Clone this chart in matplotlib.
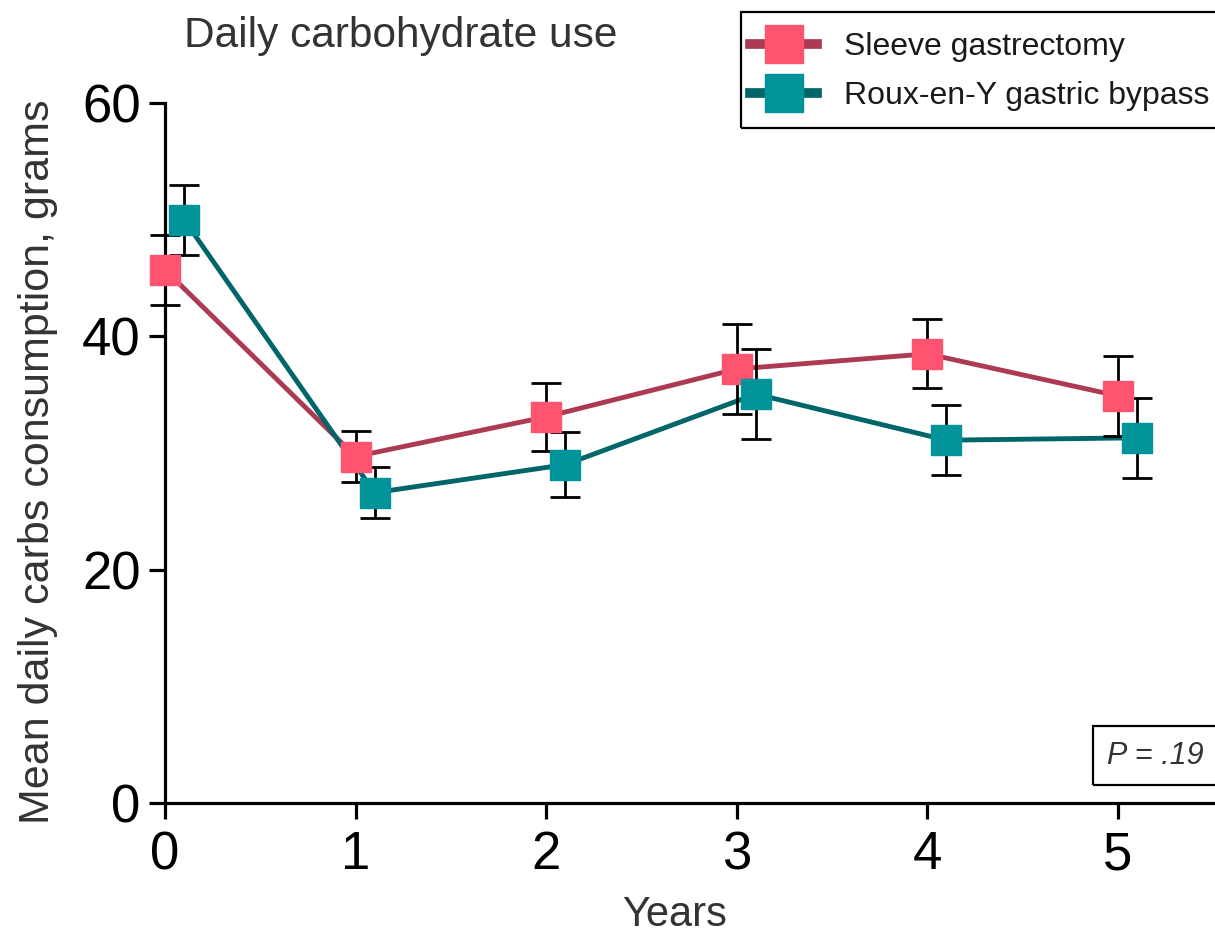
import matplotlib
matplotlib.use("Agg")
import matplotlib.pyplot as plt
from matplotlib.lines import Line2D
from matplotlib.patches import Rectangle

plt.rcParams["font.family"] = ["Liberation Sans", "DejaVu Sans"]

years = [0, 1, 2, 3, 4, 5]
offset = 0.1  # bypass points are nudged right, as in the original

sleeve_mean = [45.7, 29.7, 33.1, 37.2, 38.5, 34.9]
sleeve_err = [3.0, 2.2, 2.9, 3.85, 2.95, 3.45]

bypass_mean = [50.0, 26.6, 29.0, 35.05, 31.1, 31.3]
bypass_err = [3.0, 2.2, 2.8, 3.85, 3.0, 3.4]

labels = ["Sleeve gastrectomy", "Roux-en-Y gastric bypass"]
y_ticks = [0, 20, 40, 60]

SLEEVE_FILL = "#ff5470"
SLEEVE_LINE = "#ab3a52"
BYPASS_FILL = "#00939a"
BYPASS_LINE = "#00666a"

W, H = 1215, 941
fig = plt.figure(figsize=(W / 100, H / 100), dpi=100)
ax = fig.add_axes([165 / W, 138 / H, 1050 / W, 700 / H])

series = [
    (years, sleeve_mean, sleeve_err, SLEEVE_FILL, SLEEVE_LINE),
    ([x + offset for x in years], bypass_mean, bypass_err, BYPASS_FILL, BYPASS_LINE),
]

# lines first, then error bars, markers on top
for xs, m, e, fill, line in series:
    ax.plot(xs, m, color=line, lw=3.5, zorder=2, clip_on=False)
for xs, m, e, fill, line in series:
    ax.errorbar(xs, m, yerr=e, fmt="none", ecolor="black", elinewidth=2.0,
                capsize=10.5, capthick=2.0, zorder=3, clip_on=False)
for xs, m, e, fill, line in series:
    ax.plot(xs, m, ls="none", marker="s", ms=21, mfc=fill, mec=fill,
            zorder=4, clip_on=False)

ax.set_xlim(0, 5.51)
ax.set_ylim(0, 60)
ax.set_xticks(years)
ax.set_yticks(y_ticks)
ax.spines["top"].set_visible(False)
ax.spines["right"].set_visible(False)
for s in ("left", "bottom"):
    ax.spines[s].set_linewidth(2.3)
ax.tick_params(axis="both", which="major", width=2.3, length=11.5,
               labelsize=38, colors="black")
ax.tick_params(axis="y", pad=6)
ax.tick_params(axis="x", pad=8)

ax.set_xlabel("Years", fontsize=30, color="#333333")
ax.xaxis.set_label_coords(0.485, -0.131)
ax.set_ylabel("Mean daily carbs consumption, grams", fontsize=31, color="#333333")
ax.yaxis.set_label_coords(-0.102, 0.487)

fig.text(401 / W, 1 - 47 / H, "Daily carbohydrate use", ha="center",
         va="baseline", fontsize=30.5, color="#333333")

# legend: frame drawn separately so it can run past the right edge like the original
handles = [
    Line2D([0], [0], color=SLEEVE_LINE, lw=7, marker="s", ms=28,
           mfc=SLEEVE_FILL, mec=SLEEVE_FILL),
    Line2D([0], [0], color=BYPASS_LINE, lw=7, marker="s", ms=28,
           mfc=BYPASS_FILL, mec=BYPASS_FILL),
]
leg = fig.legend(handles, labels, loc="upper left",
                 bbox_to_anchor=(750 / W, 1 - 32 / H),
                 bbox_transform=fig.transFigure, borderaxespad=0,
                 fontsize=23, handlelength=2.1, handletextpad=0.85,
                 borderpad=0, labelspacing=0.6, frameon=False)
for t in leg.get_texts():
    t.set_color("#1a1a1a")
fig.patches.append(Rectangle((741 / W, 1 - 128 / H), 500 / W, 116 / H,
                             transform=fig.transFigure, fill=False,
                             ec="black", lw=1.6, zorder=0))

fig.text(1107 / W, 1 - 756 / H, "P = .19", ha="left", va="center",
         fontsize=22, style="italic", color="#333333")
fig.patches.append(Rectangle((1093 / W, 1 - 785 / H), 200 / W, 59 / H,
                             transform=fig.transFigure, fill=False,
                             ec="black", lw=1.6))

fig.savefig("out.png", dpi=100, facecolor="white")
plt.close(fig)
